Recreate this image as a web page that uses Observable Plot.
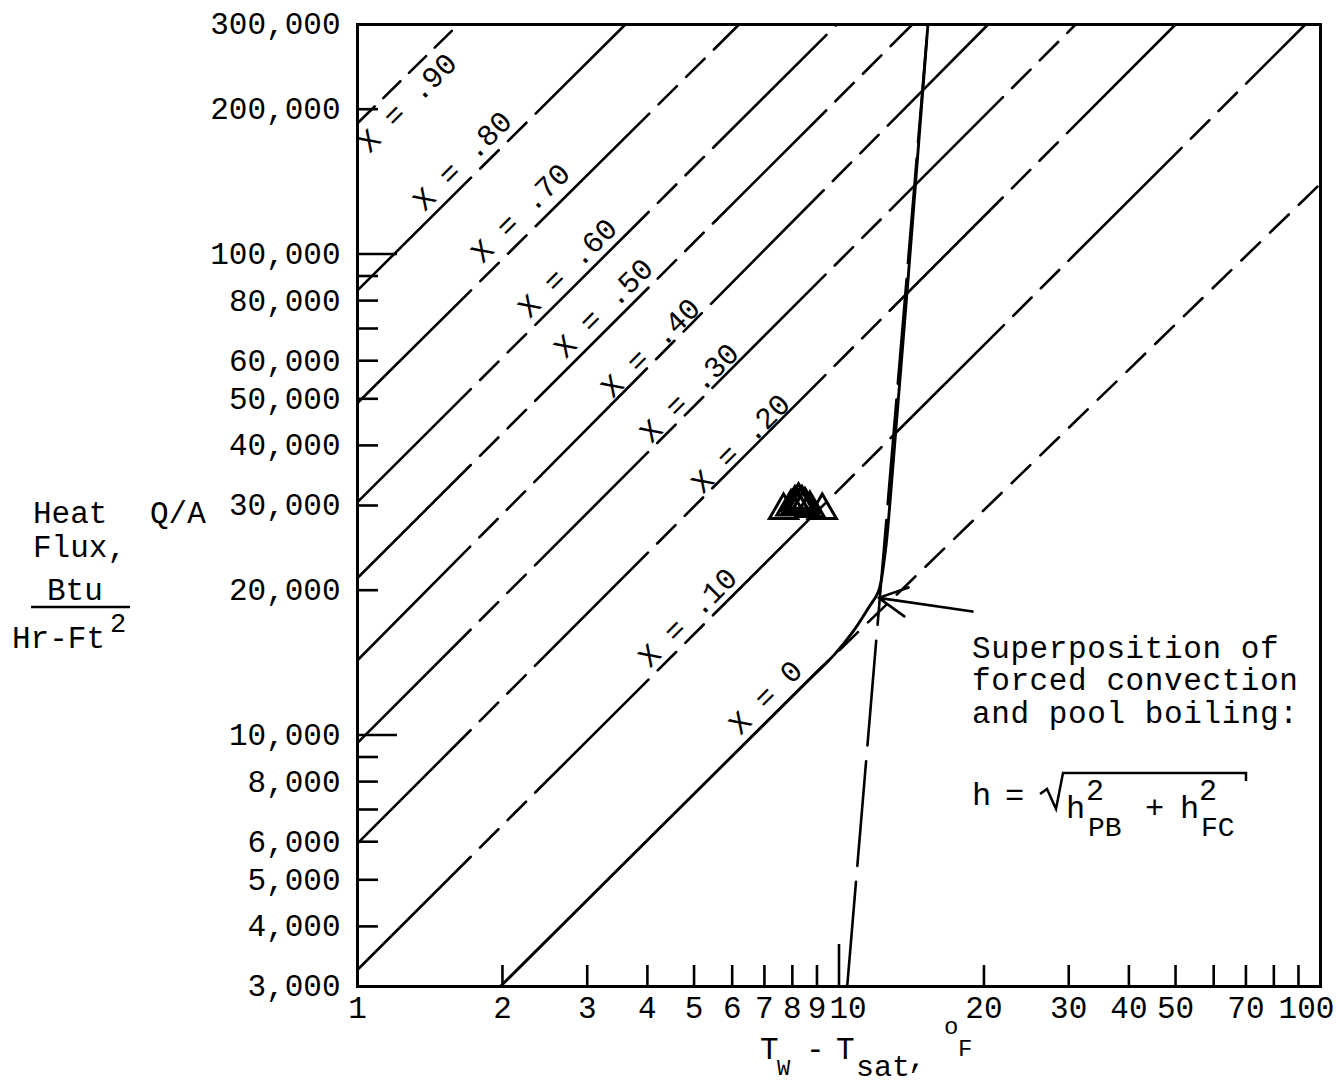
<!DOCTYPE html>
<html>
<head>
<meta charset="utf-8">
<script src="https://cdn.jsdelivr.net/npm/d3@7"></script>
<script src="https://cdn.jsdelivr.net/npm/@observablehq/plot@0.6"></script>
<style>
  html, body { margin: 0; padding: 0; background: #fff; }
  #chart { width: 1339px; height: 1085px; }
  svg text { font-family: "Liberation Mono", "DejaVu Sans Mono", monospace; }
</style>
</head>
<body>
<div id="chart"></div>
<script>
// ---------------- data ----------------
const xTickLabels = [1, 2, 3, 4, 5, 6, 7, 8, 9, 20, 30, 40, 50, 70];
const xTickLabel10 = [10];
const xTickLabel100 = [100];
const xMinorTicks = [2, 3, 4, 5, 6, 7, 8, 9, 20, 30, 40, 50, 60, 70, 80, 90];
const xMajorTicks = [10];
const yTickLabels = [3000, 4000, 5000, 6000, 8000, 10000, 20000, 30000, 40000, 50000, 60000, 80000, 100000, 200000, 300000];
const yMinorTicks = [4000, 5000, 6000, 7000, 8000, 9000, 20000, 30000, 40000, 50000, 60000, 70000, 80000, 90000, 200000];
const yMajorTicks = [10000, 100000];

// forced-convection lines, one per quality X (end points in deltaT, Q/A)
const qualityLabels = ["X = .90", "X = .80", "X = .70", "X = .60", "X = .50", "X = .40", "X = .30", "X = .20", "X = .10", "X = 0"];
const fcStartDT = [1, 1, 1, 1, 1, 1, 1, 1, 1, 8.73];
const fcStartQ  = [187000, 84000, 49000, 30500, 21200, 14300, 9630, 5950, 3250, 13130];
const fcEndDT   = [1.62, 3.6, 6.2, 9.9, 14.2, 20.4, 31, 50, 93, 100];
const fcEndQ    = [300000, 300000, 300000, 300000, 300000, 300000, 300000, 300000, 300000, 140000];
// label anchor (centre of each "X = ..." text)
const labelDT = [1.288, 1.676, 2.212, 2.77, 3.29, 4.12, 4.96, 6.34, 4.92, 7.14];
const labelQ  = [203400, 154000, 120000, 92200, 76100, 62900, 50700, 39800, 17300, 11800];

// X = 0 superposition curve (forced convection + pool boiling)
const curveDT = [1.98, 8.73, 9.79, 10.72, 11.52, 12.08, 12.43, 12.67, 15.3];
const curveQ  = [3000, 13130, 14710, 16460, 18390, 19900, 23330, 27920, 300000];

// pool boiling line
const pbDT = [10.4, 15.3];
const pbQ  = [3000, 300000];

// test data (open triangles)
const triDT = [7.67, 7.95, 8.1, 8.15, 8.24, 8.3, 8.38, 8.45, 8.5, 8.7, 9.23];
const triQ  = [29300, 29800, 30400, 30000, 30800, 30200, 30400, 29900, 30100, 29600, 29300];

// arrow to the superposition curve
const arrowFromDT = 18.94, arrowFromQ = 18060;
const arrowToDT = 12.09, arrowToQ = 19280;

// ---------------- build ----------------
const FONT = "Liberation Mono, DejaVu Sans Mono, monospace";
const rows = (xs, ys) => xs.map((d, i) => ({dt: d, q: ys[i]}));

const lineMarks = qualityLabels.map((lab, i) => {
  const dash = i === 0 ? "24,12" : (i === 9 ? "26,14" : "160,13,26,13,26,13");
  return Plot.line(
    [{dt: fcStartDT[i], q: fcStartQ[i]}, {dt: fcEndDT[i], q: fcEndQ[i]}],
    {x: "dt", y: "q", stroke: "black", strokeWidth: 2.6, strokeDasharray: dash}
  );
});

const labels = qualityLabels.map((t, i) => ({t, dt: labelDT[i], q: labelQ[i]}));

const plot = Plot.plot({
  width: 1339,
  height: 1085,
  marginLeft: 357,
  marginRight: 19,
  marginTop: 24,
  marginBottom: 99,
  x: {type: "log", domain: [1, 100]},
  y: {type: "log", domain: [3000, 300000]},
  style: {fontFamily: FONT, fontSize: "31px", background: "#fff", color: "#000"},
  marks: [
    // pool boiling line (dashed below the junction; the solid part is drawn by the curve)
    Plot.line(rows(pbDT, pbQ), {x: "dt", y: "q", stroke: "black", strokeWidth: 2.6, strokeDasharray: "105,16"}),
    ...lineMarks,
    Plot.line(rows(curveDT, curveQ), {x: "dt", y: "q", stroke: "black", strokeWidth: 2.9, curve: "catmull-rom"}),
    Plot.dot(rows(triDT, triQ), {x: "dt", y: "q", symbol: "triangle", r: 10.5, stroke: "black", strokeWidth: 3, fill: "none"}),
    Plot.arrow([{x1: arrowFromDT, y1: arrowFromQ, x2: arrowToDT, y2: arrowToQ}],
      {x1: "x1", y1: "y1", x2: "x2", y2: "y2", stroke: "black", strokeWidth: 2.6, headLength: 30, headAngle: 55}),
    Plot.text(labels, {x: "dt", y: "q", text: "t", rotate: -45, dx: -3, dy: -3, fontSize: 30, fontFamily: FONT, fill: "black", textAnchor: "middle"}),
    // axes
    Plot.axisY(yTickLabels, {anchor: "left", tickSize: 0, tickPadding: 17, tickFormat: d3.format(","), fontSize: 31, label: null}),
    Plot.axisY(yMinorTicks, {anchor: "left", tickSize: -21, tickFormat: () => "", strokeWidth: 2.6, label: null}),
    Plot.axisY(yMajorTicks, {anchor: "left", tickSize: -40, tickFormat: () => "", strokeWidth: 2.6, label: null}),
    Plot.axisX(xMinorTicks, {anchor: "bottom", tickSize: -21, tickFormat: () => "", strokeWidth: 2.6, label: null}),
    Plot.axisX(xMajorTicks, {anchor: "bottom", tickSize: -42, tickFormat: () => "", strokeWidth: 2.6, label: null}),
    Plot.text(xTickLabels, {x: d => d, frameAnchor: "bottom", dy: 9, lineAnchor: "top", text: d => String(d), fontSize: 31}),
    Plot.text(xTickLabel10, {x: d => d, frameAnchor: "bottom", dy: 9, dx: 9, lineAnchor: "top", text: d => String(d), fontSize: 31}),
    Plot.text(xTickLabel100, {x: d => d, frameAnchor: "bottom", dy: 9, dx: -14, lineAnchor: "top", text: d => String(d), fontSize: 31}),
    Plot.frame({stroke: "black", strokeWidth: 3})
  ]
});

document.getElementById("chart").appendChild(plot);

// ---------------- extra text (titles / annotation) ----------------
const svg = d3.select(plot);
const g = svg.append("g").attr("fill", "black").style("font-family", FONT);
function txt(x, y, s, size, anchor) {
  return g.append("text").attr("x", x).attr("y", y).attr("font-size", size)
    .attr("text-anchor", anchor || "start").text(s);
}
// y-axis title
txt(33, 523, "Heat", 31);
txt(150, 523, "Q/A", 31);
txt(33, 557, "Flux,", 31);
txt(47, 600, "Btu", 31);
g.append("line").attr("x1", 31).attr("x2", 130).attr("y1", 607).attr("y2", 607).attr("stroke", "black").attr("stroke-width", 2.5);
txt(12, 648, "Hr-Ft", 31);
txt(110, 632, "2", 27);

// x-axis title  T_W - T_sat, °F
txt(760, 1059, "T", 31);
txt(777, 1075, "W", 22);
txt(806, 1059, "-", 31);
txt(836, 1059, "T", 31);
txt(856, 1076, "sat", 30);
txt(908, 1068, ",", 30);
txt(944, 1034, "o", 24);
txt(958, 1056, "F", 24);

// annotation
txt(972, 658, "Superposition of", 31).attr("letter-spacing", 0.6);
txt(972, 690, "forced convection", 31).attr("letter-spacing", 0.6);
txt(972, 723, "and pool boiling:", 31).attr("letter-spacing", 0.6);

// formula h = sqrt(h_PB^2 + h_FC^2)
txt(972, 805, "h", 32);
txt(1005, 805, "=", 32);
g.append("path").attr("d", "M1040,794 L1047,789 L1056,809 L1063,773 L1246,773 L1246,781")
  .attr("fill", "none").attr("stroke", "black").attr("stroke-width", 2.5);
txt(1066, 818, "h", 32);
txt(1086, 800, "2", 30);
txt(1088, 836, "PB", 28);
txt(1145, 818, "+", 32);
txt(1180, 818, "h", 32);
txt(1199, 800, "2", 30);
txt(1201, 836, "FC", 28);
</script>
</body>
</html>
